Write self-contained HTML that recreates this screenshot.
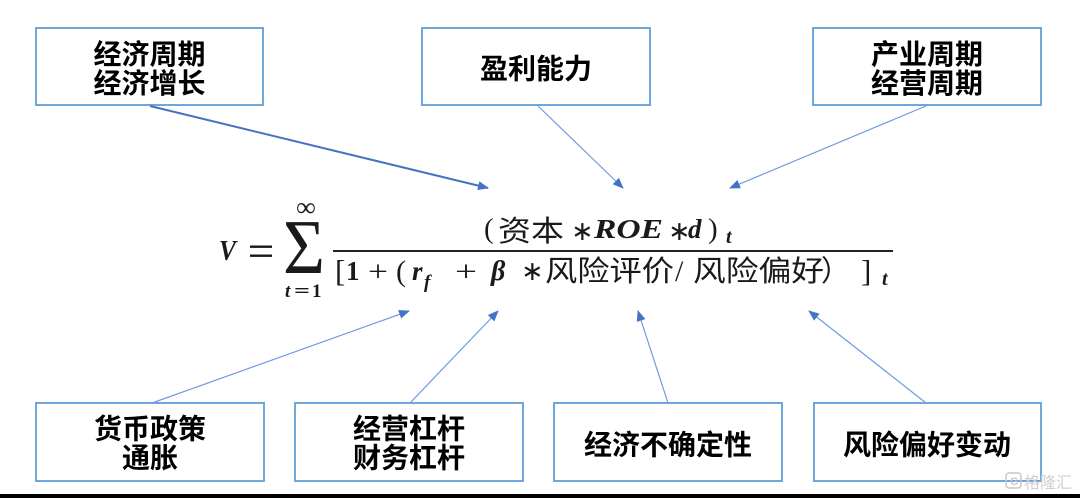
<!DOCTYPE html>
<html><head><meta charset="utf-8"><style>
html,body{margin:0;padding:0;background:#fff;}
svg{display:block;}
.bx{fill:#fff;stroke:#6fa6dc;stroke-width:2;}
.bt{font-family:"Liberation Sans","Noto Sans CJK SC",sans-serif;font-weight:700;font-size:28px;fill:#000;text-anchor:middle;}
.sr{font-family:"Liberation Serif","DejaVu Serif",serif;fill:#1a1a1a;}
.bi{font-style:italic;font-weight:700;}
.b{font-weight:700;}
.cj{font-family:"Liberation Serif","Noto Sans CJK SC",sans-serif;font-weight:400;fill:#1a1a1a;font-size:29px;}
.ast{font-family:"DejaVu Sans",sans-serif;fill:#1a1a1a;font-size:27px;}
</style></head><body>
<svg width="1080" height="498" viewBox="0 0 1080 498" xmlns="http://www.w3.org/2000/svg">
<defs>
<marker id="ah" markerUnits="userSpaceOnUse" markerWidth="11" markerHeight="9" refX="10" refY="4.5" orient="auto">
<path d="M0,0 L11,4.5 L0,9 z" fill="#4472c4"/>
</marker>
</defs>
<rect width="1080" height="498" fill="#fff"/>
<rect x="0" y="494" width="1080" height="4" fill="#000"/>

<!-- boxes -->
<rect class="bx" x="36" y="28" width="227" height="77"/>
<rect class="bx" x="422" y="28" width="228" height="77"/>
<rect class="bx" x="813" y="28" width="228" height="77"/>
<rect class="bx" x="36" y="403" width="228" height="78"/>
<rect class="bx" x="295" y="403" width="228" height="78"/>
<rect class="bx" x="554" y="403" width="228" height="78"/>
<rect class="bx" x="814" y="403" width="227" height="78"/>

<text class="bt" x="149.5" y="64">经济周期</text>
<text class="bt" x="149.5" y="93">经济增长</text>
<text class="bt" x="536" y="78.5">盈利能力</text>
<text class="bt" x="927" y="64">产业周期</text>
<text class="bt" x="927" y="93">经营周期</text>
<text class="bt" x="150" y="438.5">货币政策</text>
<text class="bt" x="150" y="467.5">通胀</text>
<text class="bt" x="409" y="438.5">经营杠杆</text>
<text class="bt" x="409" y="467.5">财务杠杆</text>
<text class="bt" x="668" y="454.5">经济不确定性</text>
<text class="bt" x="927" y="454.5">风险偏好变动</text>

<!-- arrows -->
<line x1="150" y1="106" x2="488" y2="188" stroke="#4472c4" stroke-width="2" marker-end="url(#ah)"/>
<line x1="538" y1="106" x2="623" y2="188" stroke="#6f9be0" stroke-width="1.2" marker-end="url(#ah)"/>
<line x1="926" y1="106" x2="730" y2="188" stroke="#6f9be0" stroke-width="1.2" marker-end="url(#ah)"/>
<line x1="152" y1="403" x2="409" y2="311" stroke="#6f9be0" stroke-width="1.2" marker-end="url(#ah)"/>
<line x1="410" y1="403" x2="498" y2="311" stroke="#6f9be0" stroke-width="1.2" marker-end="url(#ah)"/>
<line x1="668" y1="403" x2="638" y2="311" stroke="#6f9be0" stroke-width="1.2" marker-end="url(#ah)"/>
<line x1="926" y1="403" x2="809" y2="311" stroke="#6f9be0" stroke-width="1.2" marker-end="url(#ah)"/>

<!-- formula -->
<text class="sr bi" x="219" y="260" font-size="29" textLength="17" lengthAdjust="spacingAndGlyphs">V</text>
<rect x="250" y="245.5" width="22" height="2.4" fill="#1a1a1a"/>
<rect x="250" y="254.5" width="22" height="2.4" fill="#1a1a1a"/>
<text class="sr" x="283" y="273" font-size="77" textLength="42" lengthAdjust="spacingAndGlyphs">Σ</text>
<text class="sr" x="296" y="216" font-size="27" textLength="20" lengthAdjust="spacingAndGlyphs">∞</text>
<text class="sr bi" x="285" y="297" font-size="19">t</text>
<text class="sr b" x="294" y="297" font-size="19" textLength="16" lengthAdjust="spacingAndGlyphs">=</text>
<text class="sr b" x="312" y="297" font-size="19">1</text>

<rect x="333" y="250" width="560" height="2" fill="#222"/>

<!-- numerator -->
<text class="sr" x="484" y="238" font-size="29">(</text>
<text class="cj" x="498" y="241" textLength="66" lengthAdjust="spacingAndGlyphs">资本</text>
<text class="ast" x="571" y="240">∗</text>
<text class="sr bi" x="594" y="238" font-size="27" textLength="69" lengthAdjust="spacingAndGlyphs">ROE</text>
<text class="ast" x="668" y="240">∗</text>
<text class="sr bi" x="688" y="238" font-size="27">d</text>
<text class="sr" x="708" y="238" font-size="29">)</text>
<text class="sr bi" x="726" y="243" font-size="20">t</text>

<!-- denominator -->
<text class="sr" x="335" y="281.5" font-size="31">[</text>
<text class="sr b" x="346" y="280" font-size="27">1</text>
<text class="sr" x="368" y="281" font-size="28" textLength="20" lengthAdjust="spacingAndGlyphs">+</text>
<text class="sr" x="396" y="281" font-size="30">(</text>
<text class="sr bi" x="412" y="280" font-size="27">r</text>
<text class="sr bi" x="424" y="288" font-size="19">f</text>
<text class="sr" x="455" y="281" font-size="28" textLength="22" lengthAdjust="spacingAndGlyphs">+</text>
<text class="sr bi" x="491" y="280" font-size="28">β</text>
<text class="ast" x="521" y="280">∗</text>
<text class="cj" x="545" y="281" textLength="129" lengthAdjust="spacingAndGlyphs">风险评价</text>
<text class="sr" x="675" y="281" font-size="30">/</text>
<text class="cj" x="693" y="281" textLength="131" lengthAdjust="spacingAndGlyphs">风险偏好</text>
<text class="cj" x="821" y="281">）</text>
<text class="sr" x="861" y="281.5" font-size="31">]</text>
<text class="sr bi" x="882" y="285" font-size="20">t</text>

<!-- watermark -->
<rect x="1006" y="473" width="15" height="15" rx="3" fill="none" stroke="#c8c8c8" stroke-width="1.5"/>
<text x="1010" y="485" font-family="Liberation Sans, sans-serif" font-size="11" fill="#c8c8c8" font-weight="700">G</text>
<text x="1024" y="488" font-family="Liberation Sans, 'Noto Sans CJK SC', sans-serif" font-size="16" fill="#cfcfcf">格隆汇</text>
</svg>
</body></html>
